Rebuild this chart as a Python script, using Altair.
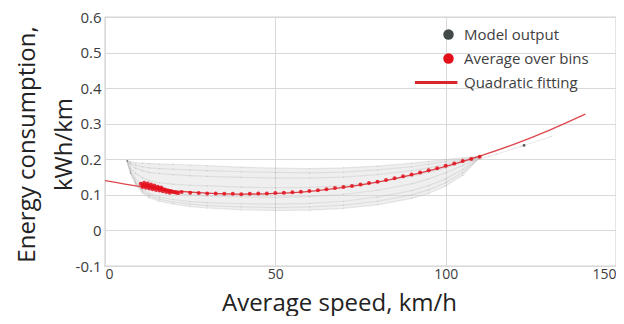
import altair as alt
import pandas as pd

# ---- Model output cloud (trajectories) ----
cloud_x = [6.5, 7.5, 9, 11, 13, 16, 20, 25, 30, 40, 50, 60, 70, 80, 90, 95, 100, 105, 110]
cloud_upper = [0.197, 0.193, 0.190, 0.189, 0.188, 0.187, 0.186, 0.184, 0.182, 0.178, 0.175, 0.174, 0.176, 0.181, 0.189, 0.194, 0.199, 0.204, 0.209]
cloud_c0 = [0.196, 0.189, 0.183, 0.179, 0.176, 0.174, 0.172, 0.170, 0.168, 0.165, 0.163, 0.162, 0.164, 0.170, 0.179, 0.186, 0.193, 0.200, 0.208]
cloud_c1 = [0.196, 0.185, 0.175, 0.168, 0.163, 0.160, 0.157, 0.154, 0.152, 0.149, 0.147, 0.147, 0.150, 0.157, 0.168, 0.176, 0.185, 0.196, 0.207]
cloud_c2 = [0.196, 0.175, 0.160, 0.148, 0.140, 0.134, 0.130, 0.127, 0.125, 0.122, 0.120, 0.121, 0.126, 0.136, 0.152, 0.163, 0.176, 0.191, 0.206]
cloud_c3 = [0.195, 0.168, 0.145, 0.128, 0.118, 0.110, 0.104, 0.100, 0.097, 0.094, 0.093, 0.095, 0.101, 0.113, 0.131, 0.145, 0.162, 0.183, 0.206]
cloud_c4 = [0.195, 0.163, 0.137, 0.115, 0.103, 0.094, 0.087, 0.081, 0.078, 0.075, 0.074, 0.076, 0.082, 0.094, 0.112, 0.126, 0.145, 0.171, 0.205]
cloud_c5 = [0.195, 0.161, 0.133, 0.110, 0.097, 0.088, 0.080, 0.074, 0.070, 0.066, 0.064, 0.066, 0.071, 0.082, 0.100, 0.114, 0.134, 0.163, 0.205]
cloud_lower = [0.195, 0.160, 0.130, 0.105, 0.092, 0.082, 0.074, 0.067, 0.063, 0.058, 0.056, 0.057, 0.062, 0.072, 0.090, 0.104, 0.125, 0.155, 0.205]
tail_x = [108, 115, 122, 131]
tail_y = [0.195, 0.215, 0.236, 0.264]
stray_x = [123]
stray_y = [0.239]

# ---- Average over bins ----
avg_x = [10.5, 11, 11.5, 12, 12.5, 13, 13.5, 14, 14.5, 15, 15.5, 16, 16.5, 17, 17.5, 18, 18.5, 19, 19.5, 20, 20.5, 21, 21.5,
         11, 12, 13, 14, 15, 16, 17, 18, 19,
         11.5, 12.5, 13.5, 14.5, 15.5, 16.5,
         22.5, 25, 27.5, 30, 32.5, 35, 37.5, 40, 42.5, 45, 47.5, 50, 52.5, 55, 57.5,
         60, 62.5, 65, 67.5, 70, 72.5, 75, 77.5, 80, 82.5, 85, 87.5, 90, 92.5, 95, 97.5,
         100, 102.5, 105, 107.5, 110]
avg_y = [0.131, 0.129, 0.128, 0.127, 0.126, 0.125, 0.124, 0.122, 0.121, 0.120, 0.119, 0.118, 0.117, 0.116, 0.115, 0.113, 0.112, 0.111, 0.110, 0.108, 0.107, 0.106, 0.105,
         0.122, 0.120, 0.118, 0.116, 0.114, 0.112, 0.110, 0.108, 0.106,
         0.134, 0.132, 0.129, 0.126, 0.123, 0.121,
         0.108, 0.106, 0.105, 0.104, 0.104, 0.103, 0.103, 0.102, 0.103, 0.104, 0.104, 0.105, 0.106, 0.107, 0.109,
         0.111, 0.113, 0.116, 0.119, 0.122, 0.125, 0.129, 0.133, 0.137, 0.142, 0.147, 0.152, 0.157, 0.163, 0.169, 0.175,
         0.182, 0.188, 0.195, 0.201, 0.207]

# ---- Quadratic fitting ----
fit_x = [0, 10, 20, 30, 40, 50, 60, 70, 80, 90, 100, 110, 120, 130, 141]
fit_y = [0.140, 0.124, 0.112, 0.105, 0.102, 0.104, 0.110, 0.121, 0.136, 0.156, 0.180, 0.209, 0.242, 0.280, 0.327]

x_ticks = [0, 50, 100, 150]
y_ticks = [-0.1, 0, 0.1, 0.2, 0.3, 0.4, 0.5, 0.6]

series = ["Model output", "Average over bins", "Quadratic fitting"]
colors = ["#414a48", "#e3101c", "#d8262e"]
fit_symbol = "M-6.4,-0.28L1.7,-0.28L1.7,0.28L-6.4,0.28Z"
shapes = ["circle", "circle", fit_symbol]

curves = {"upper": cloud_upper, "c0": cloud_c0, "c1": cloud_c1, "c2": cloud_c2, "c3": cloud_c3,
          "c4": cloud_c4, "c5": cloud_c5, "lower": cloud_lower}
rows = []
for name, yl in curves.items():
    for xv, yv in zip(cloud_x, yl):
        rows.append({"curve": name, "x": xv, "y": yv, "series": series[0]})
for xv, yv in zip(tail_x, tail_y):
    rows.append({"curve": "tail", "x": xv, "y": yv, "series": series[0]})
cloud_df = pd.DataFrame(rows)
band_df = pd.DataFrame({"x": cloud_x, "y": cloud_upper, "lower": cloud_lower})
stray_df = pd.DataFrame({"x": stray_x, "y": stray_y, "series": series[0]})
avg_df = pd.DataFrame({"x": avg_x, "y": avg_y, "series": series[1]})
fit_df = pd.DataFrame({"x": fit_x, "y": fit_y, "series": series[2]})

xs = alt.Scale(domain=[0, 150], nice=False)
ys = alt.Scale(domain=[-0.1, 0.6], nice=False)
x_axis = alt.Axis(values=x_ticks, title="Average speed, km/h", labelOverlap=False,
                  titleX=234, titleY=44, titleBaseline="alphabetic", titleAlign="center")
y_axis = alt.Axis(values=y_ticks, labelOverlap=False,
                  labelExpr="abs(datum.value) < 1e-9 ? '0' : (datum.value < 0 ? '-' + format(-datum.value, '.1f') : format(datum.value, '.1f'))",
                  title=["Energy consumption,", "kWh/km"], titleX=-71, titleY=127, titleAngle=270,
                  titleBaseline="alphabetic", titleAlign="center", titleLineHeight=37)
X = alt.X("x:Q", scale=xs, axis=x_axis)
Y = alt.Y("y:Q", scale=ys, axis=y_axis)

legend = alt.Legend(title=None, orient="none", legendX=336, legendY=10,
                    symbolSize=110, symbolOpacity=1, labelFontSize=15, labelFont="Open Sans",
                    labelColor="#404040", labelOffset=8, rowPadding=8, symbolStrokeWidth=0)
color = alt.Color("series:N", scale=alt.Scale(domain=series, range=colors), legend=legend)
shape = alt.Shape("series:N", scale=alt.Scale(domain=series, range=shapes), legend=legend)

band = alt.Chart(band_df).mark_area(color="#d6d6d6", opacity=0.4).encode(x=X, y=Y, y2="lower:Q")
cloud_lines = alt.Chart(cloud_df).mark_line(color="#b4b4b4", strokeWidth=1.2, opacity=0.28).encode(
    x=X, y=Y, detail="curve:N")
cloud_pts = alt.Chart(cloud_df).mark_point(filled=True, size=2, opacity=0.15).encode(
    x=X, y=Y, color=color, shape=shape)
stray = alt.Chart(stray_df).mark_point(filled=True, size=8, opacity=0.9).encode(
    x=X, y=Y, color=color, shape=shape)
fit = alt.Chart(fit_df).mark_line(strokeWidth=1.3, opacity=0.85, interpolate="monotone").encode(
    x=X, y=Y, color=alt.Color("series:N", scale=alt.Scale(domain=series, range=colors), legend=None))
avg = alt.Chart(avg_df).mark_point(filled=True, size=16, opacity=0.85).encode(
    x=X, y=Y, color=color, shape=shape)

chart = alt.layer(band, cloud_lines, cloud_pts, stray, fit, avg).properties(
    width=511, height=249, autosize="none",
    padding={"left": 97, "top": 9, "right": 0, "bottom": 50}
).configure_view(stroke="#a8a8a8", strokeWidth=1.2).configure_axis(
    domain=False, ticks=False, grid=True, gridColor="#d9d9d9", gridWidth=1,
    labelFont="Open Sans", labelFontSize=15, labelColor="#3c3c3c", labelPadding=4,
    titleFont="Open Sans", titleFontSize=24, titleFontWeight="normal", titleColor="#222222"
).configure_axisX(labelPadding=1, labelFontSize=14)

chart.save("out.html", embed_options={"renderer": "svg", "actions": False})
